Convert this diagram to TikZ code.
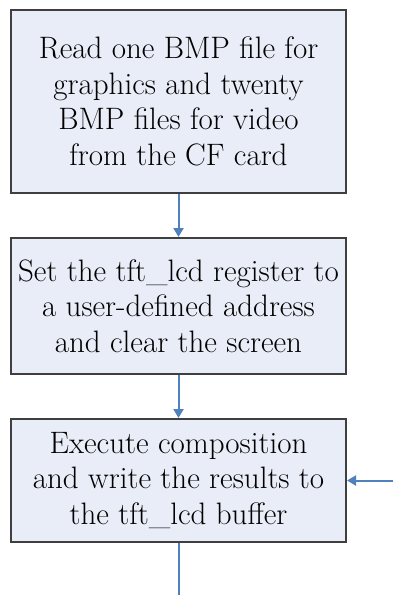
\documentclass[tikz,border=0pt]{standalone}
\usetikzlibrary{arrows.meta}
\definecolor{boxfill}{HTML}{E9EDF7}
\definecolor{boxline}{HTML}{3F3F3F}
\definecolor{arrowc}{HTML}{4F81BD}
\tikzset{
  stepbox/.style={draw=boxline, line width=2pt, fill=boxfill, align=center,
    font=\fontsize{31}{35.5}\selectfont, inner sep=0pt},
  flow/.style={draw=arrowc, line width=2pt, -{Triangle[width=10pt,length=9pt]}},
  flowline/.style={draw=arrowc, line width=2pt}
}
\begin{document}
\begin{tikzpicture}[x=1pt,y=-1pt]
\useasboundingbox (0,0) rectangle (393,595);
\node[stepbox, minimum width=335pt, minimum height=183pt] (b1) at (178.5,101.5)
  {Read one BMP file for\\graphics and twenty\\BMP files for video\\from the CF card};
\node[stepbox, minimum width=335pt, minimum height=136pt] (b2) at (178.5,306)
  {Set the tft\_lcd register to\\a user-defined address\\and clear the screen};
\node[stepbox, minimum width=335pt, minimum height=123pt] (b3) at (178.5,480.5)
  {Execute composition\\and write the results to\\the tft\_lcd buffer};
\coordinate (rin) at (393,480.5);
\coordinate (bout) at (178.5,595);
\draw[flow] (b1.south) -- (b2.north);
\draw[flow] (b2.south) -- (b3.north);
\draw[flow] (rin) -- (b3.east);
\draw[flowline] (b3.south) -- (bout);
\end{tikzpicture}
\end{document}
